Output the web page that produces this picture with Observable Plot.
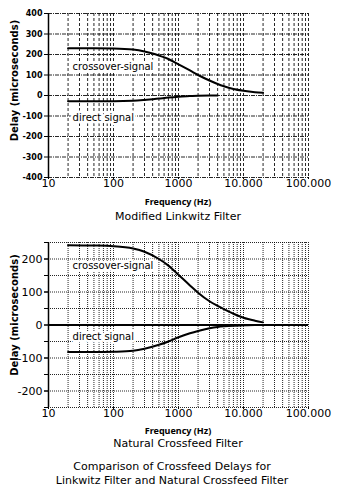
<!DOCTYPE html>
<html>
<head>
<meta charset="utf-8">
<script src="https://cdn.jsdelivr.net/npm/d3@7"></script>
<script src="https://cdn.jsdelivr.net/npm/@observablehq/plot@0.6"></script>
<style>
  html, body { margin: 0; padding: 0; background: #fff; }
  #wrap { position: relative; width: 344px; height: 494px; overflow: hidden; font-family: "DejaVu Sans", sans-serif; color: #000; }
  .abs { position: absolute; left: 0; width: 344px; }
  .t { position: absolute; white-space: nowrap; text-align: center; line-height: 1; }
</style>
</head>
<body>
<div id="wrap">
  <div id="c1" class="abs" style="top:0px"></div>
  <div id="c2" class="abs" style="top:230px"></div>
  <div class="t" style="left:48px;width:260px;top:197px;font-size:9px;font-weight:bold;font-family:'Noto Sans',sans-serif;">Frequency (Hz)</div>
  <div class="t" style="left:48px;width:260px;top:211px;font-size:11px;">Modified Linkwitz Filter</div>
  <div class="t" style="left:48px;width:260px;top:426px;font-size:9px;font-weight:bold;font-family:'Noto Sans',sans-serif;">Frequency (Hz)</div>
  <div class="t" style="left:48px;width:260px;top:438px;font-size:11px;">Natural Crossfeed Filter</div>
  <div class="t" style="left:0px;width:344px;top:461px;font-size:11px;">Comparison of Crossfeed Delays for</div>
  <div class="t" style="left:0px;width:344px;top:475px;font-size:11px;">Linkwitz Filter and Natural Crossfeed Filter</div>
</div>
<script>
// ---- data: Modified Linkwitz Filter (top) ----
const freqCrossTop = [20, 50, 100, 200, 300, 400, 500, 700, 1000, 1500, 2000, 3000, 4000, 5000, 7000, 10000, 15000, 20000];
const delayCrossTop = [230, 230, 229, 224, 215, 205, 195, 178, 152, 122, 100, 73, 56, 45, 32, 23, 16, 13];
const freqDirectTop = [20, 100, 200, 300, 500, 700, 1000, 1500, 2000, 3000, 4000];
const delayDirectTop = [-28, -28, -26, -22, -15, -10, -6, -3, -1, 0, 0];

// ---- data: Natural Crossfeed Filter (bottom) ----
const freqBot = [20, 50, 100, 200, 300, 500, 700, 1000, 1500, 2000, 3000, 4000, 5000, 7000, 10000, 15000, 20000];
const delayCrossBot = [242, 241, 239, 232, 222, 200, 180, 152, 120, 98, 72, 58, 48, 34, 22, 13, 8];
const delayDirectBot = [-82, -82, -81, -78, -72, -60, -50, -37, -25, -18, -10, -6, -4, -2, -1, 0, 0];

// ---- ticks / grid ----
const xDecades = [10, 100, 1000, 10000, 100000];
const xDecadeLabels = ["10", "100", "1000", "10.000", "100.000"];
const xGrid = [20, 30, 40, 50, 60, 70, 80, 90, 100,
               200, 300, 400, 500, 600, 700, 800, 900, 1000,
               2000, 3000, 4000, 5000, 6000, 7000, 8000, 9000, 10000,
               20000, 30000, 40000, 50000, 60000, 70000, 80000, 90000, 100000];
const yTicksTop = [-400, -300, -200, -100, 0, 100, 200, 300, 400];
const yTicksBotMajor = [-200, -100, 0, 100, 200];
const yTicksBotMinor = [-250, -200, -150, -100, -50, 0, 50, 100, 150, 200, 250];

// ---- curve labels ----
const labelsTop = [
  {text: "crossover-signal", f: 23.5, d: 142},
  {text: "direct signal", f: 23.5, d: -107}
];
const labelsBot = [
  {text: "crossover-signal", f: 23.5, d: 179},
  {text: "direct signal", f: 23.5, d: -36}
];

const zipped = (fs, ds) => fs.map((f, i) => ({f, d: ds[i]}));
const xFmt = d => xDecadeLabels[xDecades.indexOf(d)] ?? "";
const font = "DejaVu Sans, sans-serif";

const common = {
  width: 344,
  height: 192,
  marginLeft: 48,
  marginRight: 36,
  marginBottom: 15,
  style: {fontFamily: font, background: "#fff", color: "#000", overflow: "visible"},
  x: {type: "log", domain: [10, 100000]}
};

const chartTop = Plot.plot({
  ...common,
  marginTop: 13,
  y: {domain: [-400, 400]},
  marks: [
    Plot.ruleX(xGrid, {stroke: "#000", strokeWidth: 1, strokeDasharray: "3,2", strokeOpacity: 0.85}),
    Plot.ruleY(yTicksTop, {stroke: "#000", strokeWidth: 1, strokeDasharray: "4,1,1,1", strokeOpacity: 0.85}),
    Plot.text(labelsTop, {x: "f", y: "d", text: "text", textAnchor: "start", fontSize: 10, fill: "#000", stroke: "#fff", strokeWidth: 5, fontFamily: font}),
    Plot.line(zipped(freqCrossTop, delayCrossTop), {x: "f", y: "d", stroke: "#000", strokeWidth: 2, curve: "monotone-x"}),
    Plot.line(zipped(freqDirectTop, delayDirectTop), {x: "f", y: "d", stroke: "#000", strokeWidth: 2, curve: "monotone-x"}),
    Plot.ruleX([10], {stroke: "#000", strokeWidth: 1.5}),
    Plot.axisY({ticks: yTicksTop, tickSize: 4, tickPadding: 2, tickFormat: d => String(d), fontSize: 8, fontWeight: "bold", label: null}),
    Plot.axisX({ticks: xDecades, tickFormat: xFmt, tickSize: 2, tickPadding: 0, fontSize: 11, label: null}),
    Plot.text(["Delay (microseconds)"], {frameAnchor: "left", textAnchor: "middle", dx: -34, dy: -15, rotate: -90, fontSize: 10, fontWeight: "bold", fill: "#000", fontFamily: font})
  ]
});

const chartBot = Plot.plot({
  ...common,
  marginTop: 12,
  y: {domain: [-250, 250]},
  marks: [
    Plot.ruleX(xGrid, {stroke: "#000", strokeWidth: 1, strokeDasharray: "1,1", strokeOpacity: 0.85}),
    Plot.ruleY(yTicksBotMinor, {stroke: "#000", strokeWidth: 1, strokeDasharray: "1,1", strokeOpacity: 0.85}),
    Plot.ruleY([0], {stroke: "#000", strokeWidth: 2}),
    Plot.text(labelsBot, {x: "f", y: "d", text: "text", textAnchor: "start", fontSize: 10, fill: "#000", stroke: "#fff", strokeWidth: 5, fontFamily: font}),
    Plot.line(zipped(freqBot, delayCrossBot), {x: "f", y: "d", stroke: "#000", strokeWidth: 2, curve: "monotone-x"}),
    Plot.line(zipped(freqBot, delayDirectBot), {x: "f", y: "d", stroke: "#000", strokeWidth: 2, curve: "monotone-x"}),
    Plot.ruleX([10], {stroke: "#000", strokeWidth: 1.5}),
    Plot.axisY({ticks: yTicksBotMinor, tickSize: 4, tickPadding: 2, tickFormat: () => "", label: null}),
    Plot.axisY({ticks: yTicksBotMajor, tickSize: 4, tickPadding: 2, tickFormat: d => String(d), fontSize: 11, label: null}),
    Plot.axisX({ticks: xDecades, tickFormat: xFmt, tickSize: 2, tickPadding: 0, fontSize: 11, label: null}),
    Plot.text(["Delay (microseconds)"], {frameAnchor: "left", textAnchor: "middle", dx: -34, dy: -10, rotate: -90, fontSize: 10, fontWeight: "bold", fill: "#000", fontFamily: font})
  ]
});

document.getElementById("c1").appendChild(chartTop);
document.getElementById("c2").appendChild(chartBot);
</script>
</body>
</html>
